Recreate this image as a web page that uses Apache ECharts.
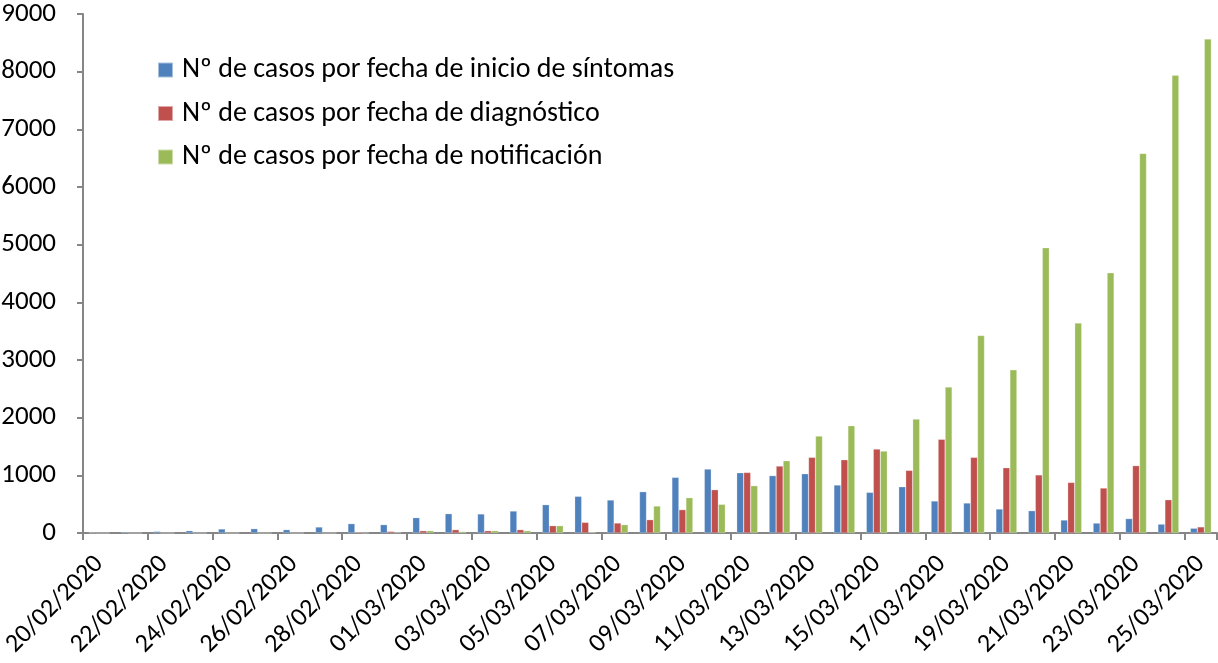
<!DOCTYPE html>
<html>
<head>
<meta charset="utf-8">
<script src="https://cdn.jsdelivr.net/npm/echarts@6/dist/echarts.min.js"></script>
<style>
html,body{margin:0;padding:0;background:#fff;}
#chart{width:1218px;height:663px;}
</style>
</head>
<body>
<div id="chart"></div>
<script>
const categories = [
  "20/02/2020","21/02/2020","22/02/2020","23/02/2020","24/02/2020","25/02/2020","26/02/2020",
  "27/02/2020","28/02/2020","29/02/2020","01/03/2020","02/03/2020","03/03/2020","04/03/2020",
  "05/03/2020","06/03/2020","07/03/2020","08/03/2020","09/03/2020","10/03/2020","11/03/2020",
  "12/03/2020","13/03/2020","14/03/2020","15/03/2020","16/03/2020","17/03/2020","18/03/2020",
  "19/03/2020","20/03/2020","21/03/2020","22/03/2020","23/03/2020","24/03/2020","25/03/2020"
];
const seriesNames = [
  "Nº de casos por fecha de inicio de síntomas",
  "Nº de casos por fecha de diagnóstico",
  "Nº de casos por fecha de notificación"
];
const inicioSintomas = [5,20,28,40,70,75,58,104,162,145,266,335,330,381,491,636,572,716,965,1109,1045,995,1028,832,705,802,555,520,416,387,225,172,250,154,83];
const diagnostico = [0,0,0,0,0,0,0,0,15,28,40,58,40,58,127,185,173,231,405,751,1050,1161,1312,1270,1456,1086,1625,1312,1132,1007,877,780,1168,577,106];
const notificacion = [0,0,0,0,0,0,0,0,0,10,40,25,40,40,127,15,145,468,612,497,820,1253,1681,1860,1421,1976,2531,3425,2829,4946,3640,4511,6582,7936,8568];
const yTicks = {min:0, max:9000, interval:1000};
const colors = ["#4F81BD","#C0504D","#9BBB59"];

const FONT = "Carlito, Lato, 'Liberation Sans', sans-serif";
const chart = echarts.init(document.getElementById('chart'), null, {renderer:'canvas'});
const values = [inicioSintomas, diagnostico, notificacion];
chart.setOption({
  animation:false,
  backgroundColor:'#ffffff',
  color: colors,
  grid:{left:83, right:1, top:14, bottom:130, containLabel:false, outerBoundsMode:'none'},
  legend:{
    orient:'vertical', left:157, top:56, padding:0,
    itemWidth:15, itemHeight:15, itemGap:15.5,
    icon:'rect',
    textStyle:{fontFamily:FONT, fontSize:28, lineHeight:28, color:'#000', padding:[0,0,0,4]},
    data: seriesNames
  },
  xAxis:{
    type:'category', data:categories, boundaryGap:true,
    axisLine:{lineStyle:{color:'#868686', width:2}},
    axisTick:{show:true, interval:1, length:7, lineStyle:{color:'#868686', width:2}},
    axisLabel:{interval:1, rotate:45, margin:27, padding:[14,0,0,0], fontFamily:FONT, fontSize:26, color:'#000', hideOverlap:false}
  },
  yAxis:{
    type:'value', min:yTicks.min, max:yTicks.max, interval:yTicks.interval,
    splitLine:{show:false},
    axisLine:{show:true, lineStyle:{color:'#868686', width:2}},
    axisTick:{show:true, length:6, lineStyle:{color:'#868686', width:2}},
    axisLabel:{margin:27, fontFamily:FONT, fontSize:27, color:'#000', formatter:v=>String(v)}
  },
  series: seriesNames.map((n,i)=>({
    name:n, type:'bar', data:values[i], barWidth:7, barGap:'0%',
    itemStyle:{color:colors[i], borderColor:'rgba(255,255,255,0.5)', borderWidth:0.5}
  }))
});
</script>
</body>
</html>
